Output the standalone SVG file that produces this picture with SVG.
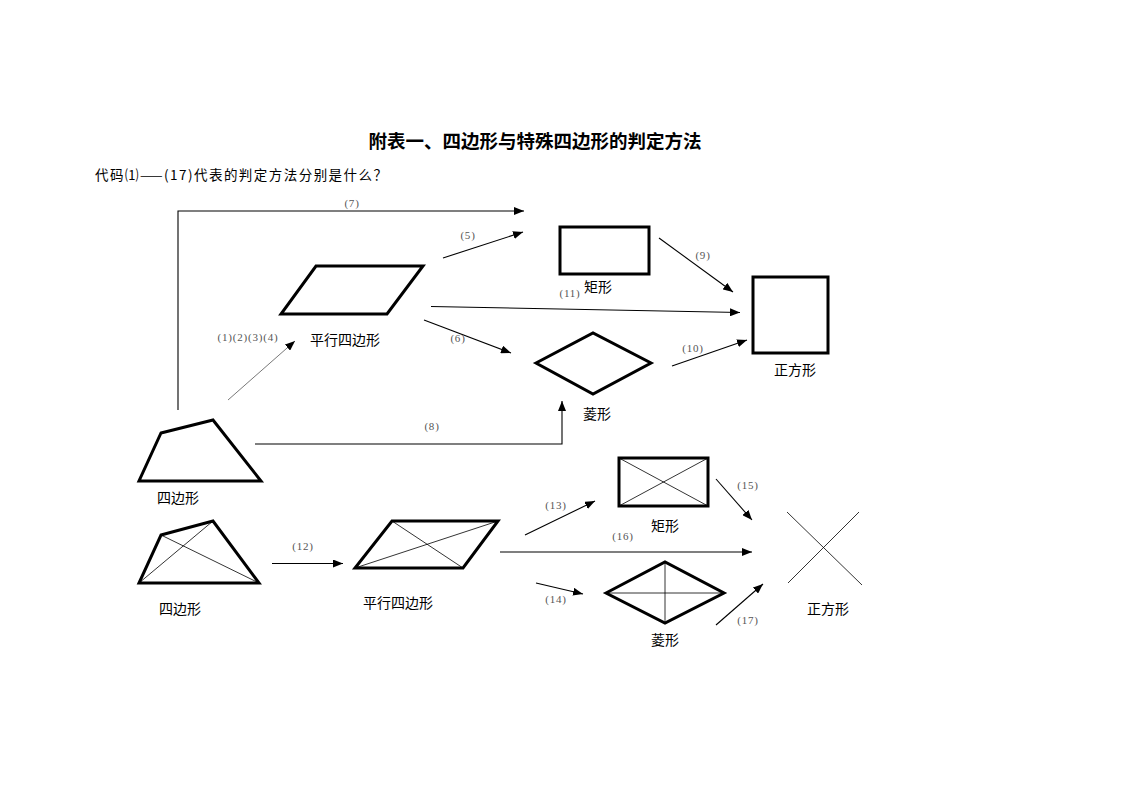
<svg xmlns="http://www.w3.org/2000/svg" width="1123" height="794" viewBox="0 0 1123 794">
<style>
.shape{fill:none;stroke:#000;stroke-width:3;stroke-linejoin:miter}
.diag{fill:none;stroke:#000;stroke-width:0.8}
.conn{fill:none;stroke:#000;stroke-width:1.1}
.lbl{font-family:"Noto Sans CJK SC",sans-serif;font-size:14px;fill:#000;text-anchor:middle}
.num{font-family:"Liberation Serif","Noto Sans CJK SC",serif;font-size:11px;fill:#555;text-anchor:middle;letter-spacing:0.8px}
.title{font-family:"Noto Sans CJK SC",sans-serif;font-size:18.5px;font-weight:bold;fill:#000;text-anchor:middle}
.sub{font-family:"Noto Sans CJK SC",sans-serif;font-size:13.5px;fill:#000}
</style>
<defs>
<marker id="ah" viewBox="0 0 10 8" refX="10" refY="4" markerWidth="10" markerHeight="8" markerUnits="userSpaceOnUse" orient="auto">
<path d="M0,0 L10,4 L0,8 Z" fill="#000"/>
</marker>
</defs>
<rect width="1123" height="794" fill="#fff"/>
<text class="title" x="535" y="148">附表一、四边形与特殊四边形的判定方法</text>
<text class="sub" x="95" y="180" textLength="292" lengthAdjust="spacing">代码⑴——(17)代表的判定方法分别是什么？</text>

<g id="connectors">
<polyline class="conn" points="178,410 178,211 524,211" marker-end="url(#ah)"/>
<line x1="228" y1="400" x2="295" y2="341" stroke="#555" stroke-width="0.8" marker-end="url(#ah)"/>
<line class="conn" x1="443" y1="258" x2="523" y2="232" marker-end="url(#ah)"/>
<line class="conn" x1="431" y1="306.5" x2="740" y2="312.5" marker-end="url(#ah)"/>
<line class="conn" x1="424" y1="320" x2="511" y2="353" marker-end="url(#ah)"/>
<line class="conn" x1="659" y1="238" x2="733" y2="292" marker-end="url(#ah)"/>
<line class="conn" x1="672" y1="366" x2="747" y2="340" marker-end="url(#ah)"/>
<polyline class="conn" points="255,444 562,444 562,401" marker-end="url(#ah)"/>
<line class="conn" x1="272" y1="563.5" x2="343" y2="563.5" marker-end="url(#ah)"/>
<line class="conn" x1="525" y1="535" x2="595" y2="501" marker-end="url(#ah)"/>
<line class="conn" x1="716" y1="479" x2="752" y2="520" marker-end="url(#ah)"/>
<line class="conn" x1="500" y1="552" x2="752" y2="552" marker-end="url(#ah)"/>
<line class="conn" x1="536" y1="583" x2="583" y2="594" marker-end="url(#ah)"/>
<line class="conn" x1="716" y1="625" x2="763" y2="584" marker-end="url(#ah)"/>
<text class="num" x="352" y="207">(7)</text>
<text class="num" x="248" y="341">(1)(2)(3)(4)</text>
<text class="num" x="468" y="239">(5)</text>
<text class="num" x="570" y="297">(11)</text>
<text class="num" x="458" y="342">(6)</text>
<text class="num" x="703" y="259">(9)</text>
<text class="num" x="693" y="352">(10)</text>
<text class="num" x="432" y="430">(8)</text>
<text class="num" x="303" y="550">(12)</text>
<text class="num" x="556" y="509">(13)</text>
<text class="num" x="748" y="489">(15)</text>
<text class="num" x="623" y="540">(16)</text>
<text class="num" x="556" y="603">(14)</text>
<text class="num" x="748" y="624">(17)</text>
</g>

<g id="quad1">
<polygon class="shape" points="161,433 213,420 261,481 139,481"/>
<text class="lbl" x="178" y="503">四边形</text>
</g>
<g id="para1">
<polygon class="shape" points="316,266 423,266 387,314 281,314"/>
<text class="lbl" x="345" y="345">平行四边形</text>
</g>
<g id="rect1">
<rect class="shape" x="560" y="227" width="89" height="47"/>
<text class="lbl" x="598" y="292">矩形</text>
</g>
<g id="rhombus1">
<polygon class="shape" points="536,363 593,333 651,363 593,394"/>
<text class="lbl" x="597" y="419">菱形</text>
</g>
<g id="square1">
<rect class="shape" x="753" y="277" width="75" height="76"/>
<text class="lbl" x="795" y="375">正方形</text>
</g>

<g id="quad2">
<polygon class="shape" points="161,535 213,521 259,583 139,583"/>
<line class="diag" x1="161" y1="535" x2="259" y2="583"/>
<line class="diag" x1="213" y1="521" x2="139" y2="583"/>
<text class="lbl" x="180" y="614">四边形</text>
</g>
<g id="para2">
<polygon class="shape" points="392,521 498,521 463,568 355,568"/>
<line class="diag" x1="392" y1="521" x2="463" y2="568"/>
<line class="diag" x1="498" y1="521" x2="355" y2="568"/>
<text class="lbl" x="398" y="608">平行四边形</text>
</g>
<g id="rect2">
<rect class="shape" x="619" y="458" width="89" height="48"/>
<line class="diag" x1="619" y1="458" x2="708" y2="506"/>
<line class="diag" x1="708" y1="458" x2="619" y2="506"/>
<text class="lbl" x="665" y="531">矩形</text>
</g>
<g id="rhombus2">
<polygon class="shape" points="606,593 665,562 724,593 665,623"/>
<line class="diag" x1="606" y1="593" x2="724" y2="593"/>
<line class="diag" x1="665" y1="562" x2="665" y2="623"/>
<text class="lbl" x="665" y="645">菱形</text>
</g>
<g id="square2">
<line class="diag" x1="787" y1="512" x2="862" y2="585"/>
<line class="diag" x1="859" y1="512" x2="788" y2="583"/>
<text class="lbl" x="828" y="614">正方形</text>
</g>
</svg>
